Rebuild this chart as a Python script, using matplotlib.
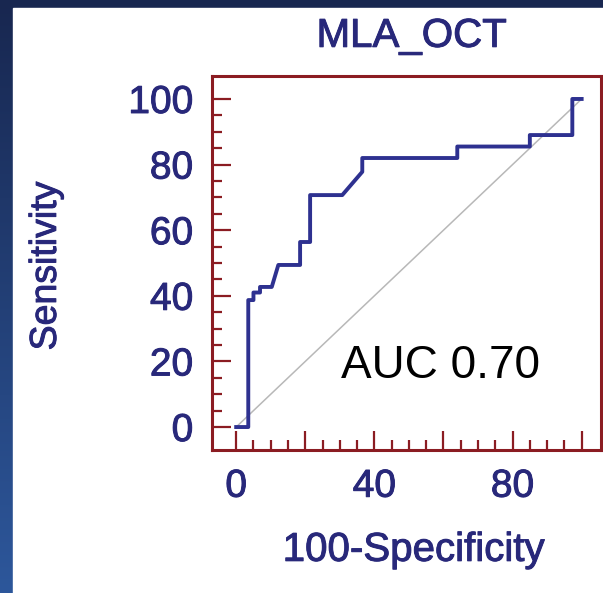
import matplotlib
matplotlib.use("Agg")
import matplotlib.pyplot as plt
import matplotlib.patheffects as pe
import numpy as np
from matplotlib.patches import Rectangle

# ROC curve (100-Specificity vs Sensitivity, in %)
fpr = [0, 3.5, 3.5, 5.0, 5.0, 6.9, 6.9, 10.3, 12.2, 18.5, 18.5, 21.4, 21.4,
       30.7, 36.5, 36.5, 64.0, 64.0, 85.0, 85.0, 97.3, 97.3, 100]
tpr = [0, 0, 38.7, 38.7, 41.0, 41.0, 42.7, 42.7, 49.4, 49.4, 56.4, 56.4, 70.7,
       70.7, 77.8, 82.0, 82.0, 85.5, 85.5, 89.0, 89.0, 100, 100]
diag = [0, 100]

x_major = [0, 20, 40, 60, 80, 100]
x_labels = ["0", "", "40", "", "80", ""]
y_major = [0, 20, 40, 60, 80, 100]
minor = [5, 10, 15, 25, 30, 35, 45, 50, 55, 65, 70, 75, 85, 90, 95]

W, H = 603, 593
navy = "#28287a"
frame = "#8b1c22"
plt.rcParams["font.family"] = ["Liberation Sans", "DejaVu Sans"]
# a bit heavier than regular, like the blurred original
heavy = [pe.withStroke(linewidth=0.7, foreground=navy)]

fig = plt.figure(figsize=(W / 100, H / 100), dpi=100)

# slide background: dark blue gradient with a white panel
bg = fig.add_axes([0, 0, 1, 1], zorder=-10)
grad = np.linspace(0, 1, 256).reshape(-1, 1)
cmap = matplotlib.colors.LinearSegmentedColormap.from_list("bg", ["#182750", "#2d579b"])
bg.imshow(grad, cmap=cmap, aspect="auto", extent=[0, W, H, 0])
bg.add_patch(Rectangle((13, 8), W - 13, H - 8, color="white"))
bg.set_xlim(0, W)
bg.set_ylim(H, 0)
bg.axis("off")

ax = fig.add_axes([212 / W, (H - 450) / H, 389 / W, 374 / H])
ax.set_facecolor("white")
ax.plot(diag, diag, color="#b8b8b8", lw=1.1, zorder=2)
ax.plot(fpr, tpr, color="#2e3190", lw=2.8, zorder=3)

ax.set_xlim(-7, 105.6)
ax.set_ylim(-7, 107)
ax.set_xticks(x_major)
ax.set_xticklabels(x_labels)
ax.set_yticks(y_major)
ax.set_xticks(minor, minor=True)
ax.set_yticks(minor, minor=True)

ax.tick_params(which="both", direction="in", color=frame, width=1.6,
               top=False, right=False)
ax.tick_params(which="major", length=14, labelsize=28, labelcolor=navy, pad=13.5)
ax.tick_params(which="minor", length=7)
for lab in ax.get_xticklabels() + ax.get_yticklabels():
    lab.set_path_effects(heavy)
for s in ax.spines.values():
    s.set_color(frame)
    s.set_linewidth(2.2)

ax.set_title("MLA_OCT", fontsize=29, color=navy, pad=21, x=0.513, path_effects=heavy)
ax.set_xlabel("100-Specificity", fontsize=29, color=navy, va="center", path_effects=heavy)
ax.xaxis.set_label_coords(0.519, -0.267)
ax.set_ylabel("Sensitivity", fontsize=27, color=navy, va="center", ha="center",
              path_effects=heavy)
ax.yaxis.set_label_coords(-0.427, 0.492)

ax.text(59, 15, "AUC 0.70", fontsize=33, color="black", ha="center", va="baseline")

fig.savefig("out.png", dpi=100)
